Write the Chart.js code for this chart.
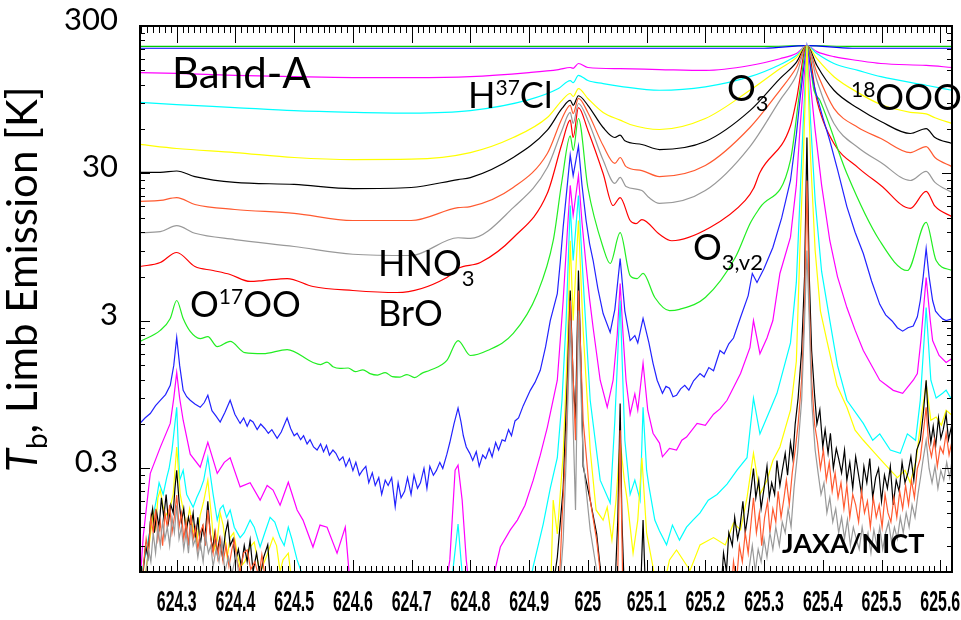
<!DOCTYPE html>
<html>
<head>
<meta charset="utf-8">
<script src="https://cdn.jsdelivr.net/npm/chart.js@4.4.1/dist/chart.umd.min.js"></script>
<style>
  body { margin: 0; background: #fff; }
  #c { display: block; }
</style>
</head>
<body>
<canvas id="c" width="961" height="620"></canvas>
<script>
// axis ticks
const xTickValues = [624.3, 624.4, 624.5, 624.6, 624.7, 624.8, 624.9, 625.0, 625.1, 625.2, 625.3, 625.4, 625.5, 625.6];
const xTickLabels = ['624.3', '624.4', '624.5', '624.6', '624.7', '624.8', '624.9', '625', '625.1', '625.2', '625.3', '625.4', '625.5', '625.6'];
const yTickValues = [0.3, 3, 30, 300];
const yTickLabels = ['0.3', '3', '30', '300'];

// spectra: [frequency GHz, Tb K], from the top curve down
const greenTop = [[624.2375,218],[625.30,218],[625.373,221],[625.45,218],[625.62,218]];
const blueTop = [[624.2375,212],[625.30,212],[625.373,221],[625.45,212],[625.62,212]];
const magenta1 = [[624.2375,145],[624.300,143],[624.399,139],[624.500,136],[624.600,134],[624.699,134],[624.800,136],[624.900,145],[624.950,152],[624.970,157],[624.975,155],[624.984,167],[625.000,157],[625.055,154],[625.122,152],[625.200,150],[625.276,162],[625.327,180],[625.355,195],[625.373,221],[625.390,201],[625.419,186],[625.460,175],[625.499,167],[625.576,162],[625.62,157]];
const cyan1 = [[624.2375,91],[624.300,88],[624.399,84],[624.500,80],[624.600,78],[624.699,77],[624.800,80],[624.900,95],[624.950,113],[624.970,128],[624.975,124],[624.984,139],[625.000,128],[625.026,122],[625.055,117],[625.122,110],[625.200,116],[625.276,136],[625.327,164],[625.355,189],[625.373,221],[625.390,195],[625.419,167],[625.460,150],[625.499,136],[625.576,119],[625.62,110]];
const yellow1 = [[624.2375,47.2],[624.300,44.3],[624.399,41.6],[624.500,38.5],[624.600,37.3],[624.699,37.5],[624.800,41.6],[624.873,52.6],[624.931,71.9],[624.956,94],[624.970,104.6],[624.975,99.8],[624.984,113],[625.000,96.8],[625.026,77.8],[625.055,69],[625.072,64.5],[625.122,59.6],[625.200,70.8],[625.276,110],[625.327,154],[625.355,183],[625.373,221],[625.390,180],[625.419,136],[625.460,106],[625.499,88],[625.549,78],[625.576,76],[625.591,71.6],[625.62,65.5]];
const black1 = [[624.2375,30.5],[624.272,30.5],[624.300,31.2],[624.331,28.6],[624.399,26.1],[624.500,25.3],[624.600,23.7],[624.699,24.1],[624.779,27.3],[624.800,28.1],[624.873,38.5],[624.931,59],[624.956,82.8],[624.970,94],[624.975,87],[624.984,101],[625.000,87],[625.026,61.5],[625.046,52.6],[625.055,54.6],[625.063,50],[625.092,47.2],[625.122,43.6],[625.200,49.4],[625.276,80],[625.327,132],[625.355,170],[625.373,221],[625.390,162],[625.419,110],[625.460,83],[625.499,67.6],[625.549,56],[625.576,60.5],[625.591,52.6],[625.62,47.9]];
const orange1 = [[624.2375,19.4],[624.272,19.7],[624.300,20.6],[624.331,18.5],[624.399,17.1],[624.500,16.1],[624.600,14.4],[624.699,14.4],[624.779,17.6],[624.800,17.9],[624.873,24.1],[624.931,41],[624.956,70.8],[624.970,87],[624.975,76.5],[624.984,96.8],[625.000,77.8],[625.026,46.4],[625.046,35.1],[625.055,38.5],[625.065,33.4],[625.092,31.4],[625.122,28.6],[625.200,34],[625.276,61.5],[625.327,110],[625.355,157],[625.373,221],[625.390,145],[625.419,83],[625.460,61.5],[625.499,51.8],[625.549,41.6],[625.576,45.7],[625.591,38.5],[625.62,33.4]];
const gray1 = [[624.2375,11.9],[624.272,12.1],[624.300,13.3],[624.331,11.8],[624.399,10.7],[624.500,9.6],[624.600,8.5],[624.699,8.34],[624.779,11.0],[624.800,10.9],[624.873,17.6],[624.931,32.9],[624.956,59],[624.970,77.8],[624.975,65.5],[624.984,89.5],[625.000,69],[625.026,37],[625.046,25.7],[625.055,28.2],[625.065,24.5],[625.092,23],[625.104,20.6],[625.122,18.8],[625.200,23],[625.276,45.7],[625.327,94],[625.355,139],[625.373,221],[625.390,128],[625.419,65.5],[625.460,45],[625.499,35.6],[625.549,26.9],[625.576,31],[625.591,26.1],[625.62,22.3]];
const red1 = [[624.2375,7.02],[624.272,7.47],[624.300,8.74],[624.331,7.02],[624.362,6.6],[624.391,6.2],[624.425,5.56],[624.447,5.64],[624.488,5.82],[624.532,5.14],[624.600,4.83],[624.675,4.68],[624.760,5.92],[624.779,6.81],[624.817,7.47],[624.873,11.0],[624.931,22],[624.956,47.9],[624.970,69],[624.975,52.6],[624.984,84],[625.000,59],[625.026,30],[625.043,18.2],[625.055,20.6],[625.072,14.4],[625.082,13.7],[625.092,14.6],[625.122,11.6],[625.143,10.5],[625.208,12.9],[625.268,19.7],[625.282,23.7],[625.293,30.5],[625.345,63],[625.355,94],[625.373,221],[625.390,94],[625.419,47.9],[625.460,32.9],[625.499,24.9],[625.549,17.4],[625.576,22.7],[625.591,18],[625.62,15.3]];
const green2 = [[624.2375,2.18],[624.272,2.59],[624.289,3.12],[624.300,4.13],[624.311,3.12],[624.323,2.55],[624.340,2.28],[624.353,2.35],[624.369,2.01],[624.391,2.18],[624.416,1.83],[624.447,1.80],[624.488,1.92],[624.532,1.57],[624.545,1.52],[624.556,1.58],[624.566,1.47],[624.578,1.43],[624.592,1.44],[624.604,1.36],[624.617,1.40],[624.629,1.32],[624.642,1.29],[624.655,1.34],[624.667,1.26],[624.680,1.25],[624.692,1.30],[624.705,1.24],[624.718,1.33],[624.731,1.39],[624.760,1.62],[624.779,2.21],[624.800,1.75],[624.829,1.89],[624.873,2.47],[624.914,4.61],[624.941,10.5],[624.956,26.9],[624.970,54],[624.975,43],[624.984,70.8],[625.000,24.1],[625.026,9.45],[625.038,7.36],[625.055,11.9],[625.072,6.1],[625.084,5.82],[625.094,6.3],[625.114,4.33],[625.139,3.53],[625.156,3.6],[625.200,4.33],[625.251,8.08],[625.276,13.7],[625.282,15.1],[625.293,17.6],[625.345,37],[625.361,110],[625.373,221],[625.385,110],[625.395,94],[625.441,30],[625.497,10.5],[625.544,6.6],[625.576,14],[625.593,7.71],[625.62,6.6]];
const blue2 = [[624.2375,0.606],[624.246,0.66],[624.255,0.708],[624.264,0.80],[624.272,0.87],[624.281,0.95],[624.289,1.10],[624.295,1.5],[624.300,2.32],[624.305,1.5],[624.311,1.016],[624.317,0.92],[624.323,0.87],[624.331,0.82],[624.340,0.78],[624.347,0.84],[624.353,0.94],[624.360,0.74],[624.367,0.68],[624.374,0.62],[624.382,0.72],[624.391,0.87],[624.399,0.70],[624.408,0.606],[624.414,0.66],[624.420,0.58],[624.425,0.64],[624.430,0.62],[624.437,0.55],[624.443,0.60],[624.450,0.56],[624.456,0.52],[624.462,0.55],[624.471,0.48],[624.478,0.53],[624.488,0.66],[624.494,0.56],[624.500,0.50],[624.505,0.52],[624.511,0.47],[624.516,0.50],[624.522,0.44],[624.527,0.47],[624.533,0.42],[624.539,0.40],[624.545,0.44],[624.550,0.39],[624.555,0.43],[624.560,0.37],[624.566,0.40],[624.571,0.38],[624.577,0.34],[624.583,0.36],[624.588,0.31],[624.594,0.35],[624.600,0.29],[624.605,0.33],[624.611,0.27],[624.616,0.29],[624.622,0.31],[624.627,0.24],[624.633,0.28],[624.638,0.23],[624.644,0.26],[624.649,0.20],[624.655,0.25],[624.660,0.23],[624.666,0.26],[624.672,0.165],[624.677,0.24],[624.682,0.19],[624.688,0.21],[624.693,0.26],[624.699,0.20],[624.704,0.27],[624.710,0.22],[624.715,0.24],[624.721,0.30],[624.726,0.22],[624.731,0.31],[624.737,0.27],[624.742,0.29],[624.748,0.33],[624.753,0.30],[624.760,0.375],[624.765,0.45],[624.772,0.60],[624.779,0.77],[624.784,0.62],[624.788,0.50],[624.793,0.42],[624.799,0.38],[624.804,0.34],[624.810,0.39],[624.815,0.31],[624.821,0.37],[624.826,0.35],[624.832,0.41],[624.837,0.36],[624.843,0.45],[624.848,0.40],[624.854,0.47],[624.859,0.46],[624.865,0.55],[624.870,0.50],[624.876,0.63],[624.882,0.66],[624.890,0.80],[624.896,0.90],[624.902,1.016],[624.910,1.15],[624.919,1.39],[624.928,2.0],[624.936,3.02],[624.948,4.6],[624.953,7.5],[624.958,13.0],[624.965,25],[624.970,40],[624.975,29],[624.984,46],[624.990,25],[624.997,14.4],[625.003,10],[625.009,7.71],[625.017,5.0],[625.026,3.37],[625.038,2.51],[625.046,3.6],[625.055,7.96],[625.063,3.5],[625.072,2.21],[625.080,2.39],[625.085,2.13],[625.094,3.12],[625.104,2.13],[625.111,1.55],[625.118,1.19],[625.127,0.97],[625.133,1.08],[625.139,1.05],[625.145,0.92],[625.151,0.94],[625.158,1.04],[625.165,1.10],[625.172,1.02],[625.180,1.18],[625.191,1.32],[625.198,1.25],[625.206,1.45],[625.214,1.38],[625.225,1.89],[625.232,1.80],[625.240,2.1],[625.248,2.3],[625.260,3.18],[625.273,4.46],[625.280,6.3],[625.288,5.47],[625.300,6.8],[625.315,9.45],[625.330,15],[625.345,26.9],[625.355,55],[625.361,94],[625.367,150],[625.373,221],[625.380,150],[625.387,110],[625.400,72],[625.412,50],[625.425,32],[625.441,17.9],[625.455,12],[625.469,8.6],[625.483,5.6],[625.497,3.89],[625.507,3.3],[625.518,3.0],[625.527,2.7],[625.536,2.56],[625.545,2.7],[625.554,2.77],[625.561,3.2],[625.566,4.13],[625.571,6.0],[625.576,9.3],[625.581,6.0],[625.587,4.13],[625.592,3.5],[625.598,3.27],[625.604,3.1],[625.610,3.02],[625.62,3.1]];
const magenta2 = [[624.2375,0.05],[624.243,0.104],[624.255,0.278],[624.272,0.417],[624.289,0.606],[624.295,0.9],[624.300,1.34],[624.305,0.9],[624.311,0.637],[624.323,0.375],[624.340,0.306],[624.353,0.452],[624.369,0.278],[624.381,0.33],[624.391,0.355],[624.408,0.225],[624.425,0.24],[624.442,0.183],[624.454,0.23],[624.464,0.214],[624.476,0.169],[624.490,0.242],[624.505,0.157],[624.515,0.134],[624.532,0.088],[624.544,0.124],[624.556,0.12],[624.573,0.080],[624.587,0.12],[624.595,0.05],[624.757,0.045],[624.765,0.072],[624.774,0.292],[624.779,0.316],[624.786,0.183],[624.793,0.072],[624.800,0.04],[624.834,0.045],[624.851,0.088],[624.868,0.115],[624.880,0.134],[624.893,0.169],[624.907,0.25],[624.919,0.369],[624.931,0.57],[624.948,1.19],[624.958,4.13],[624.965,12],[624.970,24.9],[624.975,15.6],[624.984,29],[624.990,14],[624.997,7.13],[625.003,4.2],[625.009,2.7],[625.021,1.19],[625.033,0.78],[625.043,1.19],[625.050,2.4],[625.055,5.39],[625.060,2.4],[625.065,1.19],[625.072,0.70],[625.080,0.96],[625.085,0.745],[625.094,1.55],[625.102,0.745],[625.111,0.52],[625.122,0.446],[625.127,0.36],[625.139,0.41],[625.151,0.40],[625.160,0.466],[625.168,0.49],[625.186,0.606],[625.200,0.589],[625.214,0.70],[625.225,0.76],[625.237,0.87],[625.260,1.32],[625.276,1.98],[625.282,3.02],[625.293,1.80],[625.305,2.3],[625.315,3.02],[625.327,6.3],[625.345,11.1],[625.355,25],[625.361,59],[625.367,120],[625.373,221],[625.379,120],[625.387,59],[625.398,25],[625.412,10.5],[625.425,6.0],[625.441,3.7],[625.455,2.6],[625.469,1.89],[625.497,1.19],[625.520,1.016],[625.536,0.97],[625.554,1.19],[625.561,1.32],[625.567,2.21],[625.576,5.9],[625.583,3.02],[625.587,2.21],[625.598,1.75],[625.610,1.57],[625.62,1.67]];
const cyan2 = [[624.2375,0.05],[624.249,0.088],[624.261,0.15],[624.266,0.19],[624.270,0.24],[624.277,0.20],[624.283,0.26],[624.287,0.30],[624.292,0.40],[624.300,0.78],[624.305,0.25],[624.311,0.292],[624.317,0.20],[624.328,0.164],[624.334,0.19],[624.340,0.214],[624.346,0.25],[624.353,0.356],[624.362,0.20],[624.369,0.134],[624.374,0.16],[624.379,0.169],[624.385,0.14],[624.391,0.157],[624.398,0.12],[624.408,0.102],[624.415,0.11],[624.425,0.134],[624.432,0.12],[624.442,0.088],[624.450,0.11],[624.459,0.14],[624.467,0.13],[624.476,0.102],[624.483,0.09],[624.490,0.12],[624.496,0.10],[624.505,0.072],[624.512,0.06],[624.519,0.04],[624.765,0.04],[624.776,0.098],[624.779,0.126],[624.784,0.072],[624.791,0.035],[624.893,0.035],[624.907,0.065],[624.924,0.126],[624.936,0.22],[624.948,0.355],[624.956,0.87],[624.963,3.02],[624.970,18.2],[624.975,7.71],[624.984,21.3],[624.994,4.13],[625.004,0.87],[625.021,0.25],[625.038,0.175],[625.046,0.637],[625.055,4.13],[625.063,0.466],[625.072,0.20],[625.080,0.25],[625.089,0.183],[625.094,0.78],[625.100,0.292],[625.104,0.227],[625.114,0.134],[625.122,0.113],[625.134,0.091],[625.144,0.124],[625.156,0.098],[625.168,0.12],[625.179,0.134],[625.191,0.15],[625.205,0.183],[625.220,0.20],[625.237,0.235],[625.254,0.292],[625.271,0.355],[625.282,0.90],[625.293,0.515],[625.310,0.745],[625.322,0.97],[625.345,2.13],[625.355,5.5],[625.361,19.7],[625.367,70],[625.373,221],[625.379,70],[625.387,19.7],[625.398,6.5],[625.412,3.02],[625.425,1.5],[625.441,0.87],[625.469,0.606],[625.485,0.466],[625.497,0.515],[625.515,0.40],[625.532,0.38],[625.544,0.515],[625.558,0.466],[625.566,0.87],[625.576,3.7],[625.584,1.19],[625.593,0.90],[625.604,0.97],[625.610,1.02],[625.62,0.87]];
const yellow2 = [[624.2375,0.04],[624.245,0.05],[624.249,0.068],[624.260,0.15],[624.264,0.12],[624.268,0.19],[624.272,0.214],[624.280,0.14],[624.289,0.164],[624.294,0.20],[624.300,0.42],[624.306,0.20],[624.311,0.157],[624.317,0.12],[624.322,0.16],[624.328,0.115],[624.334,0.095],[624.340,0.145],[624.346,0.18],[624.353,0.25],[624.360,0.13],[624.364,0.085],[624.369,0.098],[624.374,0.15],[624.379,0.124],[624.386,0.075],[624.391,0.102],[624.397,0.11],[624.403,0.08],[624.408,0.064],[624.416,0.07],[624.425,0.088],[624.432,0.095],[624.442,0.058],[624.448,0.068],[624.454,0.078],[624.464,0.102],[624.470,0.09],[624.476,0.06],[624.481,0.072],[624.490,0.08],[624.501,0.035],[624.936,0.035],[624.941,0.183],[624.948,0.108],[624.958,0.375],[624.965,1.89],[624.970,10.5],[624.975,3.02],[624.984,14.4],[624.992,2.59],[625.004,0.40],[625.014,0.157],[625.026,0.134],[625.033,0.164],[625.041,0.098],[625.048,0.183],[625.055,0.466],[625.062,0.25],[625.067,0.183],[625.077,0.08],[625.085,0.134],[625.092,0.355],[625.100,0.11],[625.111,0.064],[625.122,0.035],[625.139,0.072],[625.151,0.084],[625.174,0.061],[625.191,0.091],[625.214,0.102],[625.234,0.091],[625.248,0.128],[625.260,0.115],[625.271,0.19],[625.282,0.38],[625.293,0.20],[625.305,0.25],[625.315,0.34],[625.327,0.42],[625.345,0.745],[625.355,1.6],[625.361,9.02],[625.367,40],[625.373,221],[625.379,40],[625.387,9.02],[625.396,3.5],[625.407,2.21],[625.424,1.10],[625.441,0.78],[625.455,0.545],[625.469,0.466],[625.484,0.40],[625.497,0.35],[625.515,0.292],[625.527,0.26],[625.540,0.292],[625.549,0.24],[625.559,0.34],[625.567,0.637],[625.576,1.13],[625.584,0.637],[625.593,0.67],[625.602,0.589],[625.610,0.745],[625.62,0.689]];
const black2 = [[624.2375,0.035],[624.243,0.06],[624.247,0.09],[624.251,0.075],[624.255,0.13],[624.259,0.16],[624.262,0.11],[624.266,0.15],[624.270,0.12],[624.274,0.19],[624.278,0.14],[624.282,0.20],[624.286,0.13],[624.290,0.17],[624.294,0.15],[624.297,0.22],[624.300,0.292],[624.304,0.18],[624.308,0.13],[624.312,0.16],[624.316,0.11],[624.320,0.14],[624.324,0.12],[624.328,0.15],[624.332,0.10],[624.336,0.14],[624.340,0.09],[624.344,0.12],[624.348,0.10],[624.353,0.18],[624.357,0.11],[624.361,0.085],[624.365,0.11],[624.369,0.08],[624.373,0.10],[624.378,0.075],[624.383,0.11],[624.387,0.13],[624.391,0.09],[624.396,0.10],[624.400,0.07],[624.405,0.085],[624.410,0.065],[624.415,0.09],[624.420,0.07],[624.425,0.098],[624.430,0.06],[624.436,0.08],[624.442,0.055],[624.448,0.075],[624.455,0.091],[624.460,0.05],[624.467,0.035],[624.936,0.035],[624.948,0.075],[624.958,0.22],[624.965,1.19],[624.970,4.83],[624.975,1.19],[624.979,0.637],[624.984,6.6],[624.989,1.19],[624.992,0.31],[625.004,0.183],[625.015,0.108],[625.021,0.064],[625.029,0.035],[625.046,0.045],[625.051,0.134],[625.055,0.827],[625.058,0.134],[625.063,0.035],[625.089,0.035],[625.094,0.134],[625.099,0.035],[625.225,0.035],[625.231,0.08],[625.236,0.06],[625.240,0.11],[625.246,0.09],[625.250,0.14],[625.255,0.10],[625.259,0.12],[625.264,0.18],[625.268,0.11],[625.273,0.15],[625.278,0.22],[625.282,0.30],[625.286,0.19],[625.291,0.25],[625.295,0.16],[625.300,0.22],[625.305,0.31],[625.309,0.19],[625.313,0.24],[625.318,0.20],[625.322,0.34],[625.327,0.23],[625.331,0.29],[625.336,0.38],[625.340,0.27],[625.345,0.45],[625.349,0.35],[625.353,0.60],[625.358,0.90],[625.364,1.89],[625.369,6],[625.373,52.6],[625.377,6],[625.381,1.89],[625.386,0.95],[625.390,0.60],[625.395,0.75],[625.400,0.42],[625.404,0.55],[625.409,0.38],[625.413,0.52],[625.418,0.30],[625.423,0.41],[625.427,0.35],[625.432,0.28],[625.437,0.40],[625.441,0.25],[625.446,0.33],[625.451,0.22],[625.456,0.36],[625.461,0.27],[625.466,0.20],[625.470,0.31],[625.475,0.24],[625.480,0.35],[625.485,0.19],[625.490,0.26],[625.495,0.30],[625.500,0.18],[625.505,0.27],[625.510,0.22],[625.515,0.31],[625.520,0.17],[625.525,0.25],[625.530,0.21],[625.535,0.33],[625.540,0.24],[625.545,0.28],[625.550,0.36],[625.555,0.25],[625.560,0.40],[625.566,0.466],[625.571,0.70],[625.576,1.19],[625.580,0.62],[625.584,0.45],[625.588,0.58],[625.592,0.42],[625.597,0.66],[625.601,0.48],[625.605,0.55],[625.610,0.70],[625.614,0.47],[625.62,0.60]];
const orange2 = [[624.2375,0.035],[624.244,0.07],[624.248,0.10],[624.252,0.08],[624.256,0.14],[624.260,0.11],[624.264,0.16],[624.268,0.10],[624.272,0.13],[624.276,0.09],[624.280,0.15],[624.284,0.12],[624.288,0.17],[624.292,0.11],[624.296,0.14],[624.300,0.198],[624.304,0.12],[624.308,0.15],[624.312,0.10],[624.316,0.13],[624.320,0.09],[624.324,0.145],[624.328,0.10],[624.332,0.12],[624.336,0.085],[624.340,0.11],[624.345,0.124],[624.349,0.09],[624.353,0.157],[624.358,0.10],[624.362,0.08],[624.366,0.11],[624.370,0.075],[624.374,0.10],[624.379,0.07],[624.384,0.09],[624.389,0.065],[624.394,0.085],[624.398,0.098],[624.403,0.07],[624.408,0.06],[624.414,0.08],[624.420,0.084],[624.426,0.062],[624.433,0.07],[624.440,0.055],[624.445,0.078],[624.452,0.05],[624.459,0.035],[624.950,0.035],[624.956,0.134],[624.963,0.466],[624.970,4.13],[624.979,0.466],[624.984,4.83],[624.992,0.637],[625.004,0.183],[625.015,0.098],[625.021,0.06],[625.026,0.035],[625.050,0.035],[625.055,0.545],[625.060,0.035],[625.242,0.035],[625.248,0.07],[625.253,0.05],[625.258,0.09],[625.263,0.07],[625.268,0.11],[625.273,0.08],[625.278,0.13],[625.282,0.19],[625.287,0.11],[625.292,0.15],[625.296,0.09],[625.301,0.14],[625.306,0.18],[625.310,0.11],[625.315,0.16],[625.320,0.13],[625.324,0.21],[625.329,0.14],[625.334,0.19],[625.338,0.25],[625.343,0.17],[625.348,0.28],[625.353,0.40],[625.358,0.60],[625.364,1.19],[625.369,4],[625.373,26.9],[625.377,4],[625.381,1.19],[625.386,0.60],[625.391,0.45],[625.396,0.30],[625.401,0.40],[625.406,0.25],[625.411,0.33],[625.416,0.21],[625.421,0.28],[625.426,0.19],[625.431,0.24],[625.436,0.16],[625.441,0.23],[625.446,0.14],[625.451,0.20],[625.456,0.17],[625.461,0.13],[625.466,0.21],[625.471,0.15],[625.476,0.18],[625.481,0.12],[625.486,0.19],[625.491,0.14],[625.496,0.17],[625.501,0.12],[625.506,0.20],[625.511,0.15],[625.516,0.13],[625.521,0.19],[625.526,0.14],[625.531,0.21],[625.536,0.16],[625.541,0.23],[625.546,0.17],[625.551,0.25],[625.556,0.19],[625.561,0.30],[625.566,0.35],[625.571,0.52],[625.576,0.78],[625.580,0.45],[625.585,0.36],[625.590,0.47],[625.595,0.31],[625.600,0.42],[625.605,0.38],[625.610,0.52],[625.615,0.37],[625.62,0.46]];
const gray2 = [[624.2375,0.035],[624.248,0.06],[624.252,0.085],[624.256,0.07],[624.260,0.11],[624.264,0.08],[624.268,0.12],[624.272,0.09],[624.276,0.13],[624.280,0.10],[624.284,0.12],[624.288,0.09],[624.292,0.14],[624.296,0.11],[624.300,0.169],[624.304,0.10],[624.308,0.12],[624.312,0.085],[624.316,0.11],[624.320,0.08],[624.324,0.124],[624.328,0.09],[624.332,0.10],[624.336,0.075],[624.340,0.095],[624.345,0.07],[624.349,0.106],[624.354,0.08],[624.358,0.09],[624.362,0.065],[624.367,0.085],[624.372,0.07],[624.377,0.098],[624.382,0.06],[624.388,0.075],[624.394,0.058],[624.401,0.078],[624.408,0.05],[624.416,0.035],[624.950,0.035],[624.958,0.098],[624.963,0.34],[624.970,3.02],[624.979,0.157],[624.984,3.53],[624.992,0.34],[625.004,0.115],[625.015,0.061],[625.021,0.035],[625.268,0.035],[625.275,0.065],[625.280,0.09],[625.285,0.06],[625.290,0.085],[625.295,0.07],[625.300,0.10],[625.305,0.075],[625.310,0.11],[625.315,0.085],[625.320,0.12],[625.326,0.09],[625.331,0.13],[625.336,0.11],[625.341,0.16],[625.346,0.12],[625.351,0.22],[625.357,0.38],[625.364,0.87],[625.369,3],[625.373,9.02],[625.377,3],[625.381,0.87],[625.387,0.40],[625.392,0.28],[625.397,0.20],[625.402,0.24],[625.407,0.15],[625.412,0.19],[625.417,0.13],[625.422,0.16],[625.427,0.11],[625.432,0.14],[625.437,0.10],[625.442,0.135],[625.447,0.09],[625.452,0.12],[625.457,0.10],[625.462,0.085],[625.467,0.12],[625.472,0.09],[625.477,0.11],[625.482,0.08],[625.487,0.115],[625.492,0.09],[625.497,0.12],[625.502,0.085],[625.507,0.11],[625.512,0.13],[625.517,0.095],[625.522,0.12],[625.527,0.10],[625.532,0.14],[625.537,0.11],[625.542,0.15],[625.547,0.12],[625.552,0.17],[625.557,0.14],[625.562,0.20],[625.567,0.27],[625.571,0.35],[625.576,0.466],[625.581,0.30],[625.586,0.24],[625.591,0.31],[625.596,0.22],[625.601,0.29],[625.606,0.25],[625.611,0.33],[625.616,0.26],[625.62,0.34]];

const spectra = [greenTop, blueTop, magenta1, cyan1, yellow1, black1, orange1, gray1, red1,
                 green2, blue2, magenta2, cyan2, yellow2, black2, orange2, gray2];
const spectraColors = ['#00cc00', '#0000ff', '#ff00ff', '#00ffff', '#ffff00', '#000000', '#ff5a30', '#999999', '#ff0000',
                       '#22ee22', '#2222ff', '#ff00ff', '#00ffff', '#ffff00', '#000000', '#ff5a30', '#999999'];
// the upper, quieter spectra are drawn as smooth curves, the noisy ones as straight segments
const smoothCount = 10;

const FONT = 'Lato, "Open Sans", sans-serif';

// label text with sub/superscripts, parts: [text, 'n' | 'sup' | 'sub']
function richText(ctx, x, base, parts, size, small) {
    let cx = x;
    for (const [t, mode] of parts) {
        const s = mode === 'n' ? size : small;
        ctx.font = s + 'px ' + FONT;
        const dy = mode === 'sup' ? -13 : (mode === 'sub' ? 10 : 0);
        ctx.fillText(t, cx, base + dy);
        cx += ctx.measureText(t).width;
    }
}

const frameAndLabels = {
    id: 'frameAndLabels',
    afterDatasetsDraw(chart) {
        const { ctx, chartArea: a, scales: { x, y } } = chart;
        ctx.save();
        ctx.strokeStyle = '#000';
        ctx.lineWidth = 1;
        ctx.beginPath();
        // x ticks every 0.01, long every 0.1, on top and bottom
        for (let i = 0; i <= 140; i++) {
            const v = 624.24 + i * 0.01;
            if (v > x.max) break;
            const px = Math.round(x.getPixelForValue(v)) + 0.5;
            const major = Math.abs(v * 10 - Math.round(v * 10)) < 1e-6;
            ctx.moveTo(px, a.top); ctx.lineTo(px, a.top + (major ? 17 : 7));
            ctx.moveTo(px, a.bottom); ctx.lineTo(px, a.bottom - (major ? 12 : 6));
        }
        // y ticks at k * decade base, left and right
        for (const base of [0.03, 0.3, 3, 30]) {
            for (let k = 2; k <= 10; k++) {
                const v = base * k;
                if (v < y.min || v > y.max) continue;
                const py = Math.round(y.getPixelForValue(v)) + 0.5;
                const len = k === 10 ? 10 : 5;
                ctx.moveTo(a.left, py); ctx.lineTo(a.left + len, py);
                ctx.moveTo(a.right, py); ctx.lineTo(a.right - len, py);
            }
        }
        ctx.stroke();
        ctx.lineWidth = 2;
        ctx.strokeRect(a.left, a.top, a.right - a.left, a.bottom - a.top);

        // x tick labels, condensed bold
        ctx.fillStyle = '#000';
        ctx.textAlign = 'center';
        ctx.textBaseline = 'middle';
        ctx.font = 'bold 30px "Liberation Sans", Arial, sans-serif';
        xTickValues.forEach((v, i) => {
            ctx.save();
            ctx.translate(x.getPixelForValue(v), 603);
            ctx.scale(0.53, 1);
            ctx.fillText(xTickLabels[i], 0, 0);
            ctx.restore();
        });

        // y axis title
        ctx.save();
        ctx.translate(37, 472);
        ctx.rotate(-Math.PI / 2);
        ctx.textAlign = 'left';
        ctx.textBaseline = 'alphabetic';
        ctx.font = 'italic 42px ' + FONT;
        ctx.fillText('T', 0, 0);
        let w = ctx.measureText('T').width;
        ctx.font = '28px ' + FONT;
        ctx.fillText('b', w, 10);
        w += ctx.measureText('b').width;
        ctx.font = '42px ' + FONT;
        ctx.fillText(', Limb Emission [K]', w, 0);
        ctx.restore();

        // species labels
        ctx.textAlign = 'left';
        ctx.textBaseline = 'alphabetic';
        ctx.font = '42px ' + FONT;
        ctx.fillText('Band-A', 172, 88);
        richText(ctx, 468, 108, [['H', 'n'], ['37', 'sup'], ['Cl', 'n']], 36, 21);
        richText(ctx, 727, 101, [['O', 'n'], ['3', 'sub']], 36, 22);
        richText(ctx, 851, 110, [['18', 'sup'], ['OOO', 'n']], 36, 21);
        richText(ctx, 378, 276, [['HNO', 'n'], ['3', 'sub']], 36, 22);
        richText(ctx, 378, 326, [['BrO', 'n']], 36, 22);
        richText(ctx, 693, 260, [['O', 'n'], ['3,v2', 'sub']], 36, 22);
        richText(ctx, 190, 317, [['O', 'n'], ['17', 'sup'], ['OO', 'n']], 36, 21);
        ctx.font = 'bold 27px ' + FONT;
        ctx.fillText('JAXA/NICT', 782, 553);
        ctx.restore();
    }
};

const datasets = spectra.map((s, i) => ({
    data: s.map(p => ({ x: p[0], y: p[1] })),
    borderColor: spectraColors[i],
    borderWidth: 1.2,
    pointRadius: 0,
    cubicInterpolationMode: i < smoothCount ? 'monotone' : 'default',
    tension: 0,
    fill: false,
    order: -i
}));

new Chart(document.getElementById('c'), {
    type: 'line',
    data: { datasets: datasets },
    options: {
        responsive: false,
        animation: false,
        layout: { padding: { top: 26, right: 9, left: 0, bottom: 0 } },
        plugins: { legend: { display: false }, tooltip: { enabled: false } },
        scales: {
            x: {
                type: 'linear',
                min: 624.2375,
                max: 625.62,
                grid: { display: false, drawTicks: false },
                border: { display: false },
                ticks: { display: false },
                afterFit(s) { s.height = 48; }
            },
            y: {
                type: 'logarithmic',
                min: 0.0596,
                max: 300,
                grid: { display: false, drawTicks: false },
                border: { display: false },
                afterBuildTicks(s) { s.ticks = yTickValues.map(v => ({ value: v })); },
                ticks: {
                    callback: v => yTickLabels[yTickValues.indexOf(v)],
                    color: '#000',
                    font: { family: FONT, size: 31 },
                    padding: 22,
                    labelOffset: -6
                },
                afterFit(s) {
                    s.width = 140;
                    s.paddingTop = 0;
                    s.paddingBottom = 0;
                }
            }
        }
    },
    plugins: [frameAndLabels]
});
</script>
</body>
</html>
